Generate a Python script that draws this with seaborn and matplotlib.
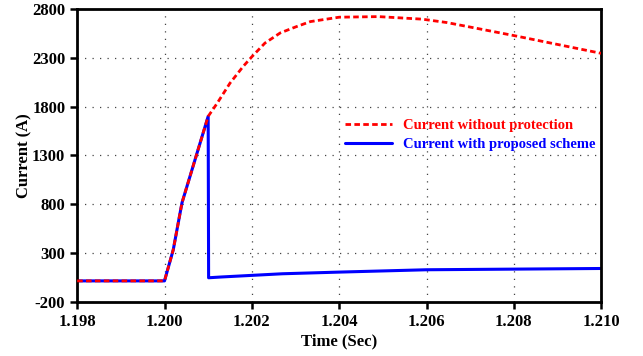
import numpy as np
import pandas as pd
import seaborn as sns
import matplotlib.pyplot as plt

# readings
time_red = [1.198, 1.2000, 1.2002, 1.2004, 1.20065, 1.2010, 1.2012, 1.2015, 1.2018, 1.2020,
            1.2023, 1.20265, 1.2030, 1.20334, 1.2040, 1.2049, 1.2059, 1.20647, 1.2080, 1.2100]
current_red = [15, 15, 333, 814, 1183, 1700, 1830, 2040, 2210, 2310,
               2450, 2554, 2615, 2670, 2715, 2721, 2695, 2660, 2527, 2345]

time_blue = [1.198, 1.2000, 1.2002, 1.2004, 1.20065, 1.2010, 1.20101, 1.2013, 1.2027, 1.2040, 1.2060, 1.2100]
current_blue = [15, 15, 333, 814, 1183, 1700, 47, 55, 88, 105, 129, 142]

x_ticks = [1.198, 1.200, 1.202, 1.204, 1.206, 1.208, 1.210]
y_ticks = [-200, 300, 800, 1300, 1800, 2300, 2800]

red_df = pd.DataFrame({"time": time_red, "current": current_red})
blue_df = pd.DataFrame({"time": time_blue, "current": current_blue})

sns.set_style("ticks")
plt.rcParams['font.family'] = ['Liberation Serif', 'DejaVu Serif']
plt.rcParams['font.weight'] = 'bold'
plt.rcParams['axes.unicode_minus'] = False

fig, ax = plt.subplots(figsize=(6.43, 3.56), dpi=100)
fig.subplots_adjust(left=0.12, right=0.935, top=0.975, bottom=0.152)

sns.lineplot(data=blue_df, x="time", y="current", ax=ax, color="#0000ff", lw=2.2,
             label="Current with proposed scheme", zorder=2)
sns.lineplot(data=red_df, x="time", y="current", ax=ax, color="#ff0000", lw=2.0,
             label="Current without protection", zorder=3)
ax.lines[1].set_dashes((2, 1.2))

ax.set_xlim(1.198, 1.210)
ax.set_ylim(-200, 2800)
ax.set_xticks(x_ticks)
ax.set_xticklabels([f"{t:.3f}" for t in x_ticks])
ax.set_yticks(y_ticks)
ax.tick_params(labelsize=12, width=1.8, length=5, direction='out', color='black', labelcolor='black')
for lab in ax.get_xticklabels() + ax.get_yticklabels():
    lab.set_fontweight('bold')
ax.grid(True, linestyle=(0, (1, 5)), color='#444444', lw=0.9)
for s in ax.spines.values():
    s.set_linewidth(2)
    s.set_color('black')
    s.set_visible(True)

ax.set_xlabel("Time (Sec)", fontsize=12, fontweight='bold', labelpad=3, color='black')
ax.set_ylabel("Current (A)", fontsize=12, fontweight='bold', labelpad=0, color='black')

h, l = ax.get_legend_handles_labels()
leg = ax.legend(h[::-1], l[::-1], loc='center right', bbox_to_anchor=(1.015, 0.57),
                frameon=False, fontsize=10.5, handlelength=3.2,
                handletextpad=0.8, labelspacing=0.35)
for txt, col in zip(leg.get_texts(), ['#ff0000', '#0000ff']):
    txt.set_color(col)
    txt.set_fontweight('bold')

fig.savefig("out.png", dpi=100)
